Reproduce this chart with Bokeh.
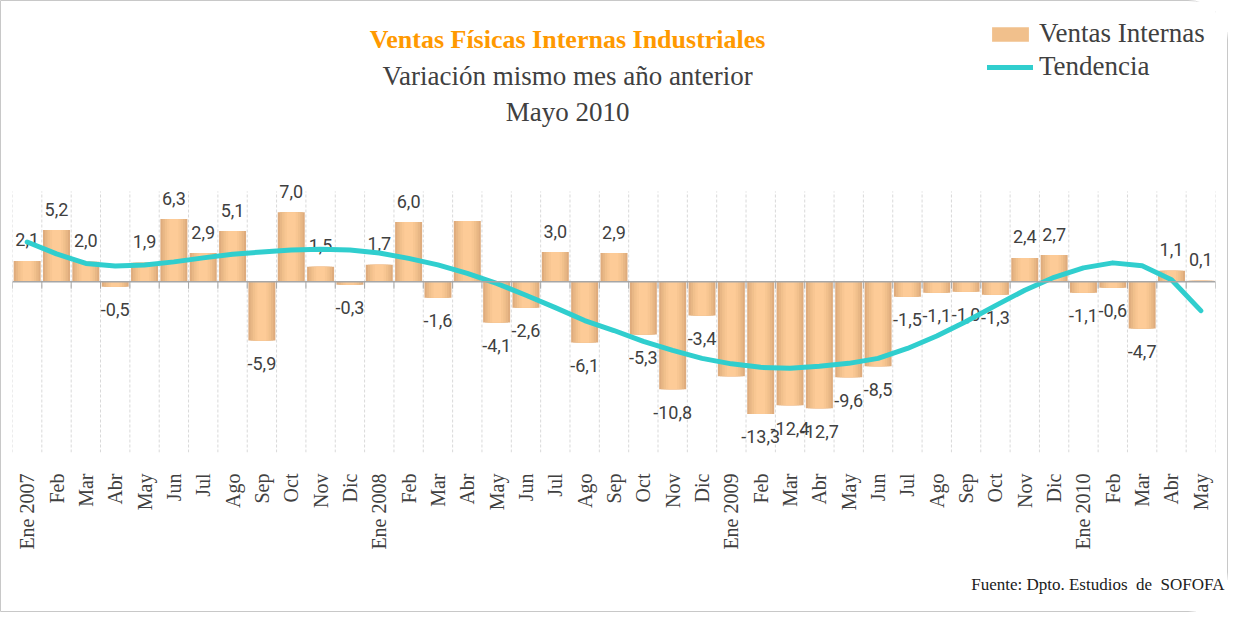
import math
from bokeh.plotting import figure
from bokeh.models import Range1d, FixedTicker, Label, Legend, LegendItem, Span, ColumnDataSource, Title
from bokeh.core.properties import value
from bokeh.embed import file_html
from bokeh.resources import INLINE

months = ["Ene 2007", "Feb", "Mar", "Abr", "May", "Jun", "Jul", "Ago", "Sep", "Oct", "Nov", "Dic",
          "Ene 2008", "Feb", "Mar", "Abr", "May", "Jun", "Jul", "Ago", "Sep", "Oct", "Nov", "Dic",
          "Ene 2009", "Feb", "Mar", "Abr", "May", "Jun", "Jul", "Ago", "Sep", "Oct", "Nov", "Dic",
          "Ene 2010", "Feb", "Mar", "Abr", "May"]

ventas = [2.1, 5.2, 2.0, -0.5, 1.9, 6.3, 2.9, 5.1, -5.9, 7.0, 1.5, -0.3,
          1.7, 6.0, -1.6, 6.1, -4.1, -2.6, 3.0, -6.1, 2.9, -5.3, -10.8, -3.4,
          -9.5, -13.3, -12.4, -12.7, -9.6, -8.5, -1.5, -1.1, -1.0, -1.3, 2.4, 2.7,
          -1.1, -0.6, -4.7, 1.1, 0.1]

tendencia = [4.0, 2.8, 1.84, 1.58, 1.69, 2.0, 2.4, 2.76, 3.0, 3.2, 3.26, 3.2,
             2.9, 2.35, 1.7, 0.84, -0.17, -1.35, -2.6, -3.9, -4.9, -6.0, -6.9, -7.7,
             -8.25, -8.6, -8.7, -8.5, -8.2, -7.7, -6.7, -5.45, -4.0, -2.4, -0.85, 0.45,
             1.4, 1.9, 1.6, 0.2, -2.9]

hidden_labels = [15, 24]  # months whose value label is not shown in the original
value_labels = ["" if i in hidden_labels else f"{v:.1f}".replace(".", ",")
                for i, v in enumerate(ventas)]

titulo = "Ventas Físicas Internas Industriales"
subtitulo = "Variación mismo mes año anterior"
fecha = "Mayo 2010"
fuente = "Fuente: Dpto. Estudios\u00a0 de\u00a0 SOFOFA"

n = len(months)
idx = list(range(n))
y_top = 28.17
y_bottom = -17.16
grid_top = 9.08

p = figure(width=1228, height=612, output_backend="svg", toolbar_location=None,
           x_range=Range1d(-0.5, n - 0.5), y_range=Range1d(y_bottom, y_top),
           min_border_left=11, min_border_right=14, min_border_top=0, min_border_bottom=161,
           y_axis_location=None)
p.outline_line_color = None
p.xgrid.visible = False
p.ygrid.visible = False
p.background_fill_color = "white"
p.border_fill_color = "white"
try:
    p.styles = {"border": "1px solid #c8c8c8", "border-radius": "0px 40px 40px 0px"}
except Exception:
    pass

# dashed vertical grid lines at category boundaries
bounds = [i - 0.5 for i in range(n + 1)]
p.segment(x0=bounds, x1=bounds, y0=[y_bottom] * len(bounds), y1=[grid_top] * len(bounds),
          line_color="#d9d9d9", line_width=1, line_dash="3 2")

src = ColumnDataSource(dict(x=idx, top=ventas, lab=value_labels,
                            ly=[v + 2.1 if v >= 0 else v - 2.3 for v in ventas]))

# bars with a horizontal shading (layered)
widths = [0.92, 0.78, 0.62, 0.46, 0.30]
colors = ["#dfac7d", "#e8b785", "#f1c08c", "#f8c692", "#fdcb97"]
bar_renderers = []
for w, c in zip(widths, colors):
    r = p.vbar(x="x", top="top", bottom=0, width=w, source=src, fill_color=c, line_color=None)
    bar_renderers.append(r)

# zero line and ticks
p.add_layout(Span(location=0, dimension="width", line_color="#a6a6a6", line_width=1.5))
p.segment(x0=bounds, x1=bounds, y0=[0] * len(bounds), y1=[-0.7] * len(bounds),
          line_color="#a6a6a6", line_width=1)

# value labels
p.text(x="x", y="ly", text="lab", source=src, text_align="center", text_baseline="middle",
       text_font=value("Roboto"), text_font_size="18px", text_color="#404040")

# trend line
trend = p.line(idx, tendencia, line_color="#30cece", line_width=5, line_cap="round", line_join="round")

# axis
p.xaxis.ticker = FixedTicker(ticks=idx)
p.xaxis.major_label_overrides = {i: m for i, m in enumerate(months)}
p.xaxis.major_label_orientation = math.pi / 2
p.xaxis.major_label_text_font = "Liberation Serif"
p.xaxis.major_label_text_font_size = "20px"
p.xaxis.major_label_text_color = "#404040"
p.xaxis.major_label_standoff = 15
p.xaxis.major_tick_line_color = None
p.xaxis.minor_tick_line_color = None
p.xaxis.axis_line_color = None

# titles
tx = 18.42
p.add_layout(Label(x=tx, y=24.35, text=titulo, text_align="center", text_baseline="middle",
                   text_font="Liberation Serif", text_font_style="bold", text_font_size="26px",
                   text_color="#ff9900"))
p.add_layout(Label(x=tx, y=20.73, text=subtitulo, text_align="center", text_baseline="middle",
                   text_font="Liberation Serif", text_font_size="27px", text_color="#404040"))
p.add_layout(Label(x=tx, y=17.11, text=fecha, text_align="center", text_baseline="middle",
                   text_font="Liberation Serif", text_font_size="27px", text_color="#404040"))

p.add_layout(Title(text=fuente, align="right", offset=-9, standoff=40,
                   text_font="Liberation Serif", text_font_style="normal", text_font_size="17px",
                   text_color="#202020"), "below")

legend = Legend(items=[LegendItem(label="Ventas Internas", renderers=[bar_renderers[2]]),
                       LegendItem(label="Tendencia", renderers=[trend])],
                location=(975, 369), margin=0, padding=4, spacing=0,
                glyph_width=46, glyph_height=18, label_height=33, label_standoff=6,
                label_text_font="Liberation Serif", label_text_font_size="27px",
                label_text_color="#404040", background_fill_alpha=0, border_line_color=None)
p.add_layout(legend)

open("out.html", "w").write(file_html(p, INLINE))
